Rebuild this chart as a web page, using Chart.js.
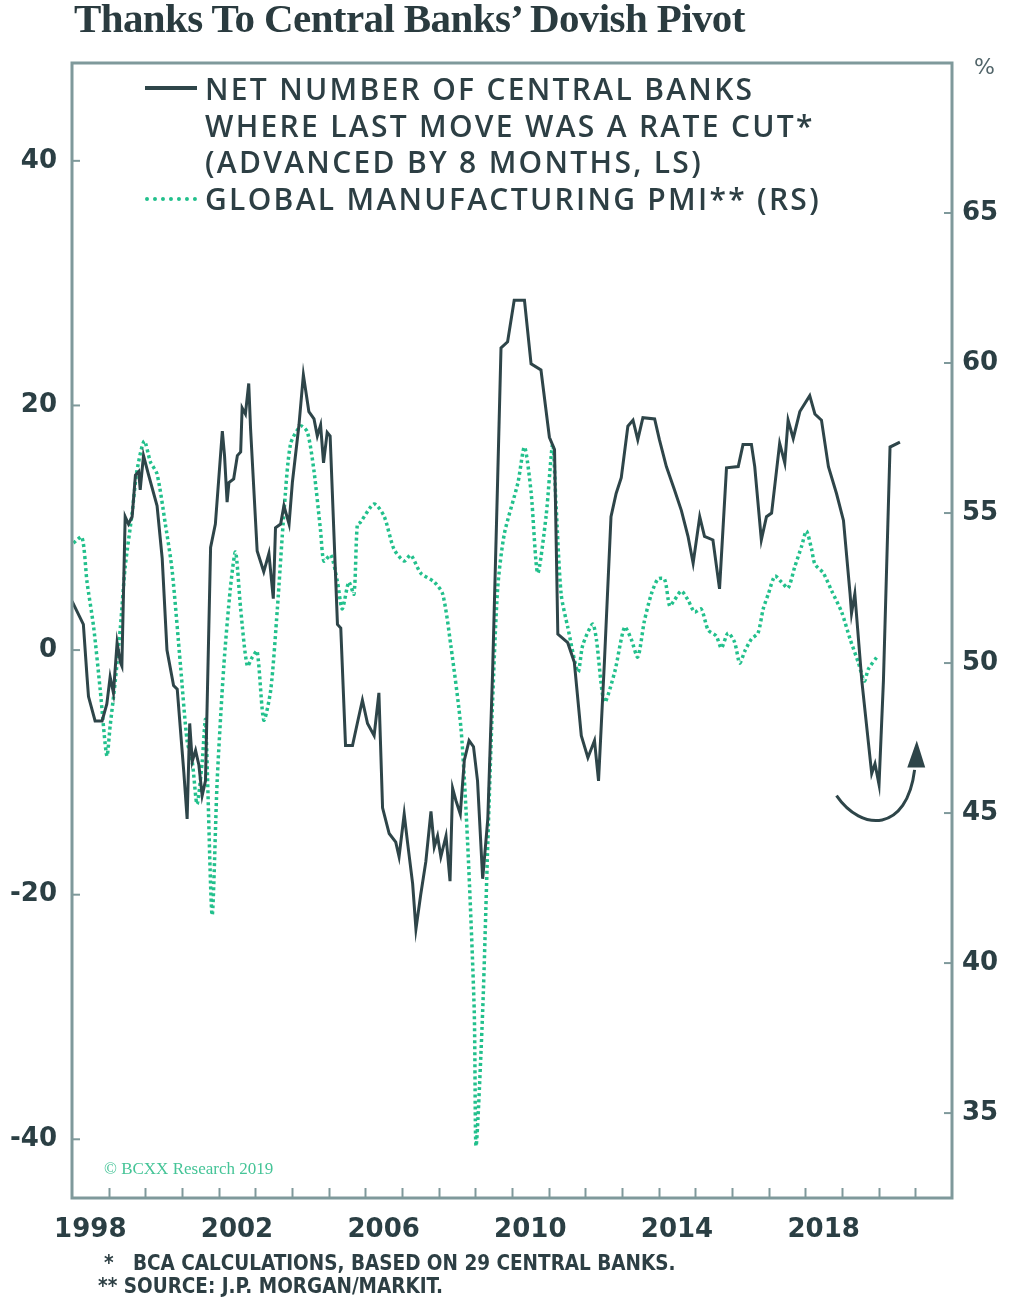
<!DOCTYPE html>
<html lang="en">
<head>
<meta charset="UTF-8">
<title>Thanks To Central Banks' Dovish Pivot</title>
<script src="https://cdn.jsdelivr.net/npm/chart.js"></script>
<style>
    body {
        margin: 0;
        background: #FFFFFF;
        width: 1012px;
        height: 1301px;
        position: relative;
        overflow: hidden;
        color: #2d3f44;
    }
    #myChart { position: absolute; left: 0; top: 0; }
    .title {
        position: absolute; left: 74px; top: -6px;
        font-family: 'Liberation Serif', serif; font-weight: bold;
        font-size: 41px; letter-spacing: -0.6px; color: #2a3b3f;
        white-space: nowrap;
    }
    .leg {
        position: absolute; left: 205px;
        font-family: 'Open Sans', sans-serif; font-weight: 600;
        font-size: 30px; letter-spacing: 2.3px; white-space: nowrap; line-height: 1;
    }
    .swatch { position: absolute; left: 145px; width: 52px; }
    .unit {
        position: absolute; left: 974px; top: 54px;
        font-family: 'DejaVu Sans', sans-serif; font-size: 22px; color: #52656a;
    }
    .copy {
        position: absolute; left: 104px; top: 1159px;
        font-family: 'Liberation Serif', serif; font-size: 17px; color: #45c497;
        white-space: nowrap;
    }
    .note {
        position: absolute; font-family: 'Liberation Sans Narrow', 'DejaVu Sans Condensed', sans-serif;
        font-weight: bold; font-size: 20.5px; white-space: nowrap; color: #2d3f44;
    }
</style>
</head>
<body>
    <canvas id="myChart" width="1012" height="1301"></canvas>

    <div class="title">Thanks To Central Banks’ Dovish Pivot</div>

    <div class="swatch" style="top:86px; height:4px; background:#2e4549;"></div>
    <div class="leg" style="top:74px;">NET NUMBER OF CENTRAL BANKS</div>
    <div class="leg" style="top:111px;">WHERE LAST MOVE WAS A RATE CUT*</div>
    <div class="leg" style="top:147px;">(ADVANCED BY 8 MONTHS, LS)</div>
    <div class="swatch" style="top:197px; height:0; border-top:4px dotted #22c08c;"></div>
    <div class="leg" style="top:184px;">GLOBAL MANUFACTURING PMI** (RS)</div>

    <div class="unit">%</div>
    <div class="copy">© BCXX Research 2019</div>
    <div class="note" style="left:104px; top:1251px;">*&nbsp;&nbsp;&nbsp;BCA CALCULATIONS, BASED ON 29 CENTRAL BANKS.</div>
    <div class="note" style="left:98px; top:1274px;">**&nbsp;SOURCE: J.P. MORGAN/MARKIT.</div>

<script>
// Net number of central banks where last move was a cut (advanced 8 months, LS)
var cbYears = [1998.00,1998.31,1998.41,1998.45,1998.63,1998.82,1998.95,1999.04,1999.13,1999.23,
    1999.32,1999.36,1999.45,1999.54,1999.64,1999.73,1999.82,1999.86,1999.95,2000.09,
    2000.32,2000.46,2000.59,2000.77,2000.87,2001.05,2001.14,2001.21,2001.28,2001.37,
    2001.46,2001.55,2001.64,2001.78,2001.91,2002.10,2002.16,2002.23,2002.28,2002.41,
    2002.51,2002.60,2002.64,2002.73,2002.82,2002.87,2003.05,2003.23,2003.37,2003.49,
    2003.55,2003.69,2003.78,2003.92,2004.01,2004.19,2004.31,2004.46,2004.60,2004.69,
    2004.78,2004.86,2004.96,2005.04,2005.24,2005.33,2005.46,2005.65,2005.78,2005.92,
    2006.06,2006.24,2006.37,2006.47,2006.65,2006.83,2006.92,2007.06,2007.15,2007.29,
    2007.38,2007.51,2007.65,2007.79,2007.88,2007.97,2008.06,2008.20,2008.31,2008.38,
    2008.47,2008.59,2008.70,2008.83,2008.95,2009.06,2009.20,2009.34,2009.47,2009.61,
    2009.70,2009.88,2010.06,2010.34,2010.52,2010.79,2011.02,2011.16,2011.25,2011.52,
    2011.70,2011.89,2012.07,2012.25,2012.36,2012.52,2012.70,2012.84,2012.98,2013.16,
    2013.30,2013.43,2013.57,2013.89,2014.02,2014.21,2014.43,2014.62,2014.80,2014.94,
    2015.12,2015.25,2015.48,2015.66,2015.85,2016.17,2016.30,2016.53,2016.62,2016.80,
    2016.94,2017.08,2017.30,2017.44,2017.53,2017.67,2017.85,2018.12,2018.26,2018.44,
    2018.63,2018.85,2019.04,2019.22,2019.26,2019.35,2019.54,2019.81,2019.90,2020.01,
    2020.13,2020.31,2020.58];
var cbNet = [4.0,2.1,-2.2,-3.8,-5.8,-5.8,-4.4,-2.2,-3.5,0.6,
    -1.0,-1.3,10.9,10.3,10.9,14.3,14.6,13.1,15.9,14.3,
    11.8,7.5,0.0,-2.9,-3.2,-10.0,-13.8,-6.0,-9.1,-8.2,
    -9.4,-11.9,-10.7,8.4,10.3,17.9,15.9,12.1,13.7,14.0,
    15.9,16.2,19.8,19.3,21.8,18.1,8.1,6.4,7.9,4.2,
    10.0,10.3,11.8,10.3,13.7,18.4,22.5,19.5,18.9,17.5,
    18.4,15.3,17.8,17.5,2.1,1.8,-7.8,-7.8,-6.0,-4.1,
    -6.0,-7.0,-3.5,-12.9,-15.0,-15.7,-16.9,-13.4,-15.7,-19.1,
    -22.8,-20.0,-17.3,-13.2,-16.1,-15.2,-16.9,-15.2,-18.9,-11.3,
    -12.3,-13.4,-9.0,-7.4,-7.9,-10.7,-18.7,-13.8,-1.9,14.1,
    24.7,25.2,28.6,28.6,23.4,22.9,17.4,16.4,1.3,0.6,
    -1.0,-7.0,-8.8,-7.4,-10.7,-1.0,10.9,12.8,14.1,18.3,
    18.8,17.2,19.0,18.9,17.2,15.0,13.1,11.4,9.3,7.1,
    10.9,9.3,9.0,5.0,14.9,15.0,16.8,16.8,15.0,9.0,
    10.9,11.2,16.9,15.3,18.8,17.3,19.5,20.8,19.3,18.8,
    15.0,12.8,10.6,4.6,3.0,4.6,-2.5,-10.1,-9.3,-11.0,
    -2.5,16.6,17.0];

// Global manufacturing PMI (RS)
var pmiYears = [1998.04,1998.27,1998.41,1998.59,1998.77,1998.95,1999.04,1999.18,1999.32,1999.45,
    1999.64,1999.77,1999.97,2000.14,2000.32,2000.55,2000.73,2000.96,2001.14,2001.28,
    2001.41,2001.55,2001.64,2001.82,2001.96,2002.14,2002.32,2002.46,2002.60,2002.78,
    2002.92,2003.05,2003.23,2003.42,2003.60,2003.78,2003.96,2004.24,2004.42,2004.60,
    2004.78,2004.87,2005.06,2005.24,2005.37,2005.55,2005.69,2005.78,2005.87,2006.24,
    2006.51,2006.78,2007.06,2007.24,2007.51,2007.88,2008.11,2008.33,2008.61,2008.79,
    2008.97,2009.02,2009.20,2009.34,2009.47,2009.61,2009.79,2010.16,2010.34,2010.52,
    2010.70,2010.93,2011.11,2011.20,2011.34,2011.52,2011.80,2011.93,2012.20,2012.30,
    2012.52,2012.80,2013.07,2013.25,2013.43,2013.61,2013.80,2013.98,2014.16,2014.30,
    2014.43,2014.62,2014.80,2014.98,2015.16,2015.35,2015.57,2015.71,2015.89,2016.07,
    2016.21,2016.35,2016.53,2016.71,2016.85,2016.99,2017.17,2017.35,2017.53,2017.71,
    2017.90,2018.03,2018.17,2018.26,2018.49,2018.72,2018.99,2019.22,2019.45,2019.61,
    2019.72,2019.95];
var pmiValues = [54.0,54.2,52.7,51.2,49.1,46.9,47.9,49.4,51.2,53.2,
    55.0,56.4,57.4,56.7,56.3,54.6,53.1,49.9,47.4,46.7,
    45.3,46.7,48.1,41.6,46.1,49.9,52.5,53.7,51.8,49.9,
    50.2,50.4,48.1,49.1,51.8,55.0,57.3,57.9,57.7,56.4,
    54.4,53.4,53.6,52.7,51.8,52.7,52.3,54.6,54.7,55.3,
    54.9,53.8,53.4,53.6,53.0,52.7,52.3,50.6,47.8,44.0,
    38.4,33.9,38.4,44.0,48.7,52.5,54.3,56.0,57.2,55.7,
    53.0,54.9,57.3,55.3,52.3,51.2,49.7,50.6,51.3,50.8,
    48.7,49.7,51.2,50.8,50.2,51.4,52.3,52.8,52.8,51.9,
    52.1,52.4,52.1,51.7,51.8,51.1,50.9,50.5,51.0,50.7,
    50.0,50.4,50.8,51.0,51.8,52.3,52.9,52.7,52.5,53.2,
    53.9,54.4,53.8,53.3,53.0,52.4,51.7,50.8,50.0,49.4,
    49.8,50.2];

var labelYears = [1998, 2002, 2006, 2010, 2014, 2018];
var leftTicks = [-40, -20, 0, 20, 40];
var rightTicks = [35, 40, 45, 50, 55, 60, 65];

// curved "turning up" arrow, in (year, LS value) coordinates
var arrowCurve = [[2018.85, -11.9], [2019.54, -14.9], [2020.77, -14.9], [2020.98, -9.8]];
var arrowHead = [[2021.04, -7.4], [2020.78, -9.6], [2021.27, -9.6]];

var darkColor = '#2e4549';
var greenColor = '#22c08c';
var frameColor = '#7f999b';
var tickFont = { family: "'DejaVu Sans', sans-serif", weight: 'bold', size: 26 };

// frame, inward ticks and the arrow
var decorations = {
    id: 'decorations',
    afterDraw: function(chart) {
        var c = chart.ctx, a = chart.chartArea;
        var x = chart.scales.x, yl = chart.scales.yL, yr = chart.scales.yR;
        c.save();
        c.strokeStyle = frameColor;
        c.lineWidth = 2;
        for (var yr0 = 1999; yr0 <= 2021; yr0++) {
            var px = Math.round(x.getPixelForValue(yr0)) + 0.5;
            c.beginPath(); c.moveTo(px, a.bottom); c.lineTo(px, a.bottom - 10); c.stroke();
        }
        leftTicks.forEach(function(v) {
            var py = yl.getPixelForValue(v);
            c.beginPath(); c.moveTo(a.left, py); c.lineTo(a.left + 8, py); c.stroke();
        });
        rightTicks.forEach(function(v) {
            var py = yr.getPixelForValue(v);
            c.beginPath(); c.moveTo(a.right, py); c.lineTo(a.right - 8, py); c.stroke();
        });
        c.lineWidth = 3;
        c.strokeRect(a.left, a.top, a.right - a.left, a.bottom - a.top);

        function P(p) { return [x.getPixelForValue(p[0]), yl.getPixelForValue(p[1])]; }
        var p0 = P(arrowCurve[0]), p1 = P(arrowCurve[1]), p2 = P(arrowCurve[2]), p3 = P(arrowCurve[3]);
        c.strokeStyle = darkColor;
        c.lineWidth = 3;
        c.beginPath();
        c.moveTo(p0[0], p0[1]);
        c.bezierCurveTo(p1[0], p1[1], p2[0], p2[1], p3[0], p3[1]);
        c.stroke();
        var h0 = P(arrowHead[0]), h1 = P(arrowHead[1]), h2 = P(arrowHead[2]);
        c.fillStyle = darkColor;
        c.beginPath();
        c.moveTo(h0[0], h0[1]); c.lineTo(h1[0], h1[1]); c.lineTo(h2[0], h2[1]);
        c.closePath(); c.fill();
        c.restore();
    }
};

var ctx = document.getElementById('myChart').getContext('2d');

var myChart = new Chart(ctx, {
    type: 'line',
    data: {
        datasets: [{
            label: 'Net number of central banks',
            data: cbYears.map(function(t, i) { return { x: t, y: cbNet[i] }; }),
            yAxisID: 'yL',
            borderColor: darkColor,
            borderWidth: 3,
            pointRadius: 0,
            tension: 0
        }, {
            label: 'Global manufacturing PMI',
            data: pmiYears.map(function(t, i) { return { x: t, y: pmiValues[i] }; }),
            yAxisID: 'yR',
            borderColor: greenColor,
            borderWidth: 3.5,
            borderDash: [3, 3],
            pointRadius: 0,
            tension: 0.25
        }]
    },
    options: {
        responsive: false,
        animation: false,
        layout: { padding: { top: 63, left: 0, right: 0, bottom: 0 } },
        plugins: {
            legend: { display: false },
            tooltip: { enabled: false }
        },
        scales: {
            x: {
                type: 'linear',
                min: 1998,
                max: 2022,
                grid: { display: false, drawTicks: false },
                border: { display: false },
                afterFit: function(s) { s.height = 103; },
                ticks: {
                    stepSize: 1,
                    autoSkip: false,
                    maxRotation: 0,
                    labelOffset: 18.3,
                    padding: 17,
                    color: '#2b3f44',
                    font: tickFont,
                    callback: function(v) { return labelYears.indexOf(v) >= 0 ? String(v) : ''; }
                }
            },
            yL: {
                type: 'linear',
                position: 'left',
                min: -44.8,
                max: 48.0,
                grid: { display: false, drawTicks: false },
                border: { display: false },
                afterFit: function(s) { s.width = 72; },
                afterBuildTicks: function(s) { s.ticks = leftTicks.map(function(v) { return { value: v }; }); },
                ticks: {
                    padding: 15,
                    color: '#2b3f44',
                    font: tickFont
                }
            },
            yR: {
                type: 'linear',
                position: 'right',
                min: 32.17,
                max: 70.0,
                grid: { display: false, drawTicks: false },
                border: { display: false },
                afterFit: function(s) { s.width = 60; },
                afterBuildTicks: function(s) { s.ticks = rightTicks.map(function(v) { return { value: v }; }); },
                ticks: {
                    padding: 10,
                    color: '#2b3f44',
                    font: tickFont
                }
            }
        }
    },
    plugins: [decorations]
});
</script>
</body>
</html>
